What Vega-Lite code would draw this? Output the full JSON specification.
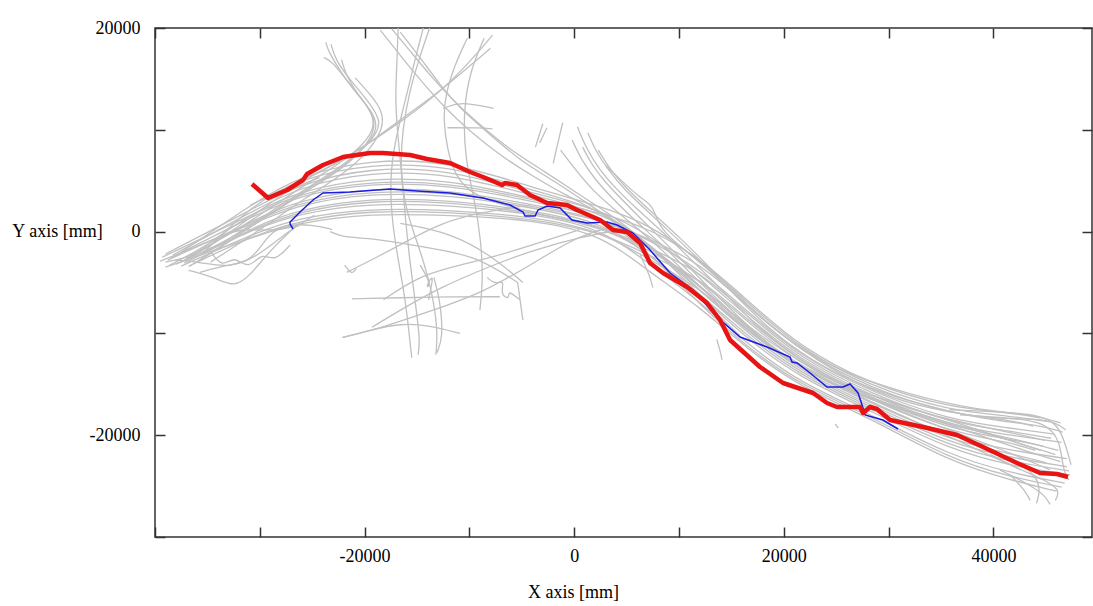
{
"$schema": "https://vega.github.io/schema/vega-lite/v6.json",
"width": 937, "height": 509,
"autosize": {"type": "none"},
"padding": {"left": 155, "top": 28, "right": 1, "bottom": 69},
"background": "white",
"config": {
 "view": {"stroke": "#333333", "strokeWidth": 1.5},
 "axis": {"labelFont": "Liberation Serif", "titleFont": "Liberation Serif", "labelFontSize": 18, "titleFontSize": 18, "labelColor": "#000000", "titleColor": "#000000", "titleFontWeight": "normal", "grid": false, "domain": false, "tickColor": "#333333", "tickWidth": 1.5, "tickSize": -10}
},
"layer": [
 {
  "data": {"values": [
{"g":"A1","x":-37600,"y":-2100},{"g":"A1","x":-30900,"y":2600},{"g":"A1","x":-26200,"y":5500},{"g":"A1","x":-19500,"y":7100},{"g":"A1","x":-11800,"y":6900},{"g":"A1","x":-4200,"y":4400},{"g":"A1","x":2500,"y":2500},{"g":"A1","x":7200,"y":700},{"g":"A1","x":12000,"y":-2800},{"g":"A1","x":16800,"y":-7200},{"g":"A1","x":21500,"y":-11500},{"g":"A1","x":28200,"y":-15200},{"g":"A1","x":35800,"y":-17600},{"g":"A1","x":41600,"y":-18100},{"g":"A1","x":45400,"y":-18700},
{"g":"A2","x":-39000,"y":-2200},{"g":"A2","x":-30900,"y":2100},{"g":"A2","x":-26200,"y":4700},{"g":"A2","x":-19500,"y":6300},{"g":"A2","x":-11800,"y":6100},{"g":"A2","x":-4200,"y":3800},{"g":"A2","x":2500,"y":2200},{"g":"A2","x":7200,"y":-300},{"g":"A2","x":12000,"y":-4200},{"g":"A2","x":16800,"y":-8600},{"g":"A2","x":21500,"y":-12600},{"g":"A2","x":28200,"y":-16100},{"g":"A2","x":35800,"y":-19100},{"g":"A2","x":41600,"y":-20000},{"g":"A2","x":46500,"y":-20700},
{"g":"A3","x":-36500,"y":-2400},{"g":"A3","x":-30900,"y":1800},{"g":"A3","x":-26200,"y":4000},{"g":"A3","x":-19500,"y":5300},{"g":"A3","x":-11800,"y":5100},{"g":"A3","x":-4200,"y":3300},{"g":"A3","x":2500,"y":1900},{"g":"A3","x":7200,"y":300},{"g":"A3","x":12000,"y":-2600},{"g":"A3","x":16800,"y":-7000},{"g":"A3","x":21500,"y":-11300},{"g":"A3","x":28200,"y":-15000},{"g":"A3","x":35800,"y":-17300},{"g":"A3","x":41600,"y":-17800},{"g":"A3","x":44500,"y":-18300},
{"g":"A4","x":-38500,"y":-2600},{"g":"A4","x":-30900,"y":1400},{"g":"A4","x":-26200,"y":3600},{"g":"A4","x":-19500,"y":4800},{"g":"A4","x":-11800,"y":4600},{"g":"A4","x":-4200,"y":3000},{"g":"A4","x":2500,"y":1600},{"g":"A4","x":7200,"y":-1300},{"g":"A4","x":12000,"y":-5300},{"g":"A4","x":16800,"y":-9700},{"g":"A4","x":21500,"y":-13500},{"g":"A4","x":28200,"y":-16800},{"g":"A4","x":35800,"y":-20200},{"g":"A4","x":41600,"y":-21500},{"g":"A4","x":47000,"y":-22300},
{"g":"A5","x":-37000,"y":-2700},{"g":"A5","x":-30900,"y":1100},{"g":"A5","x":-26200,"y":3100},{"g":"A5","x":-19500,"y":4300},{"g":"A5","x":-11800,"y":4100},{"g":"A5","x":-4200,"y":2700},{"g":"A5","x":2500,"y":1300},{"g":"A5","x":7200,"y":-800},{"g":"A5","x":12000,"y":-3700},{"g":"A5","x":16800,"y":-8100},{"g":"A5","x":21500,"y":-12200},{"g":"A5","x":28200,"y":-15700},{"g":"A5","x":35800,"y":-18500},{"g":"A5","x":41600,"y":-19300},{"g":"A5","x":45800,"y":-19900},
{"g":"A6","x":-39500,"y":-2900},{"g":"A6","x":-30900,"y":700},{"g":"A6","x":-26200,"y":2700},{"g":"A6","x":-19500,"y":3800},{"g":"A6","x":-11800,"y":3600},{"g":"A6","x":-4200,"y":2400},{"g":"A6","x":2500,"y":1000},{"g":"A6","x":7200,"y":-2300},{"g":"A6","x":12000,"y":-6100},{"g":"A6","x":16800,"y":-10500},{"g":"A6","x":21500,"y":-14100},{"g":"A6","x":28200,"y":-17400},{"g":"A6","x":35800,"y":-21100},{"g":"A6","x":41600,"y":-22600},{"g":"A6","x":47200,"y":-23500},
{"g":"A7","x":-36000,"y":-3000},{"g":"A7","x":-30900,"y":400},{"g":"A7","x":-26200,"y":2200},{"g":"A7","x":-19500,"y":3300},{"g":"A7","x":-11800,"y":3100},{"g":"A7","x":-4200,"y":2100},{"g":"A7","x":2500,"y":700},{"g":"A7","x":7200,"y":-1900},{"g":"A7","x":12000,"y":-4700},{"g":"A7","x":16800,"y":-9100},{"g":"A7","x":21500,"y":-13000},{"g":"A7","x":28200,"y":-16500},{"g":"A7","x":35800,"y":-19700},{"g":"A7","x":41600,"y":-20700},{"g":"A7","x":44000,"y":-21500},
{"g":"A8","x":-38000,"y":-3200},{"g":"A8","x":-30900,"y":100},{"g":"A8","x":-26200,"y":1800},{"g":"A8","x":-19500,"y":2800},{"g":"A8","x":-11800,"y":2600},{"g":"A8","x":-4200,"y":1800},{"g":"A8","x":2500,"y":400},{"g":"A8","x":7200,"y":-3200},{"g":"A8","x":12000,"y":-6900},{"g":"A8","x":16800,"y":-11300},{"g":"A8","x":21500,"y":-14800},{"g":"A8","x":28200,"y":-17900},{"g":"A8","x":35800,"y":-22000},{"g":"A8","x":41600,"y":-23700},{"g":"A8","x":46800,"y":-24700},
{"g":"A9","x":-37500,"y":-3400},{"g":"A9","x":-30900,"y":-300},{"g":"A9","x":-26200,"y":1400},{"g":"A9","x":-19500,"y":2300},{"g":"A9","x":-11800,"y":2100},{"g":"A9","x":-4200,"y":1500},{"g":"A9","x":2500,"y":100},{"g":"A9","x":7200,"y":-2800},{"g":"A9","x":12000,"y":-5500},{"g":"A9","x":16800,"y":-9900},{"g":"A9","x":21500,"y":-13700},{"g":"A9","x":28200,"y":-17000},{"g":"A9","x":35800,"y":-20500},{"g":"A9","x":41600,"y":-21800},{"g":"A9","x":45000,"y":-22700},
{"g":"A10","x":-39000,"y":-3500},{"g":"A10","x":-30900,"y":-600},{"g":"A10","x":-26200,"y":900},{"g":"A10","x":-19500,"y":1800},{"g":"A10","x":-11800,"y":1600},{"g":"A10","x":-4200,"y":1200},{"g":"A10","x":2500,"y":-200},{"g":"A10","x":7200,"y":-4000},{"g":"A10","x":12000,"y":-7400},{"g":"A10","x":16800,"y":-11800},{"g":"A10","x":21500,"y":-15200},{"g":"A10","x":28200,"y":-18300},{"g":"A10","x":35800,"y":-22600},{"g":"A10","x":41600,"y":-24400},{"g":"A10","x":46000,"y":-25500},
{"g":"A11","x":-35500,"y":-2200},{"g":"A11","x":-30900,"y":2500},{"g":"A11","x":-26200,"y":5200},{"g":"A11","x":-19500,"y":6700},{"g":"A11","x":-11800,"y":6500},{"g":"A11","x":-4200,"y":4100},{"g":"A11","x":2500,"y":2300},{"g":"A11","x":7200,"y":-1200},{"g":"A11","x":12000,"y":-6300},{"g":"A11","x":16800,"y":-10800},{"g":"A11","x":21500,"y":-14300},{"g":"A11","x":28200,"y":-17600},{"g":"A11","x":35800,"y":-21400},{"g":"A11","x":41600,"y":-23000},{"g":"A11","x":47300,"y":-23900},
{"g":"A12","x":-38800,"y":-2800},{"g":"A12","x":-30900,"y":900},{"g":"A12","x":-26200,"y":2900},{"g":"A12","x":-19500,"y":4000},{"g":"A12","x":-11800,"y":3900},{"g":"A12","x":-4200,"y":2500},{"g":"A12","x":2500,"y":1200},{"g":"A12","x":7200,"y":-700},{"g":"A12","x":12000,"y":-3100},{"g":"A12","x":16800,"y":-7500},{"g":"A12","x":21500,"y":-11700},{"g":"A12","x":28200,"y":-15400},{"g":"A12","x":35800,"y":-17900},{"g":"A12","x":41600,"y":-18500},{"g":"A12","x":43800,"y":-19100},
{"g":"A13","x":-37200,"y":-3100},{"g":"A13","x":-30900,"y":200},{"g":"A13","x":-26200,"y":2000},{"g":"A13","x":-19500,"y":3100},{"g":"A13","x":-11800,"y":2900},{"g":"A13","x":-4200,"y":1900},{"g":"A13","x":2500,"y":600},{"g":"A13","x":7200,"y":-1600},{"g":"A13","x":12000,"y":-3900},{"g":"A13","x":16800,"y":-8300},{"g":"A13","x":21500,"y":-12400},{"g":"A13","x":28200,"y":-15900},{"g":"A13","x":35800,"y":-18800},{"g":"A13","x":41600,"y":-19600},{"g":"A13","x":45500,"y":-20300},
{"g":"A14","x":-39300,"y":-2500},{"g":"A14","x":-30900,"y":1600},{"g":"A14","x":-26200,"y":3800},{"g":"A14","x":-19500,"y":5000},{"g":"A14","x":-11800,"y":4800},{"g":"A14","x":-4200,"y":3200},{"g":"A14","x":2500,"y":1700},{"g":"A14","x":7200,"y":-2100},{"g":"A14","x":12000,"y":-7200},{"g":"A14","x":16800,"y":-11600},{"g":"A14","x":21500,"y":-15000},{"g":"A14","x":28200,"y":-18100},{"g":"A14","x":35800,"y":-22300},{"g":"A14","x":41600,"y":-24100},{"g":"A14","x":46500,"y":-25100},
{"g":"A15","x":-36800,"y":-3400},{"g":"A15","x":-30900,"y":-500},{"g":"A15","x":-26200,"y":1100},{"g":"A15","x":-19500,"y":2100},{"g":"A15","x":-11800,"y":1900},{"g":"A15","x":-4200,"y":1300},{"g":"A15","x":2500,"y":0},{"g":"A15","x":7200,"y":-2400},{"g":"A15","x":12000,"y":-4500},{"g":"A15","x":16800,"y":-8900},{"g":"A15","x":21500,"y":-12800},{"g":"A15","x":28200,"y":-16300},{"g":"A15","x":35800,"y":-19400},{"g":"A15","x":41600,"y":-20400},{"g":"A15","x":44800,"y":-21100},
{"g":"A16","x":-38300,"y":-2300},{"g":"A16","x":-30900,"y":1900},{"g":"A16","x":-26200,"y":4400},{"g":"A16","x":-19500,"y":5900},{"g":"A16","x":-11800,"y":5700},{"g":"A16","x":-4200,"y":3600},{"g":"A16","x":2500,"y":2000},{"g":"A16","x":7200,"y":-1100},{"g":"A16","x":12000,"y":-5800},{"g":"A16","x":16800,"y":-10200},{"g":"A16","x":21500,"y":-13900},{"g":"A16","x":28200,"y":-17200},{"g":"A16","x":35800,"y":-20800},{"g":"A16","x":41600,"y":-22200},{"g":"A16","x":47000,"y":-23100},
{"g":"C1","x":-37600,"y":-3000},{"g":"C1","x":-32800,"y":-800},{"g":"C1","x":-28100,"y":2600},{"g":"C1","x":-24200,"y":5100},{"g":"C1","x":-21400,"y":7000},{"g":"C1","x":-19300,"y":9000},{"g":"C1","x":-18700,"y":10500},{"g":"C1","x":-19500,"y":12100},{"g":"C1","x":-20900,"y":13700},{"g":"C1","x":-22300,"y":15700},{"g":"C1","x":-23500,"y":17800},{"g":"C1","x":-23700,"y":18600},
{"g":"C2","x":-36700,"y":-3400},{"g":"C2","x":-31900,"y":-300},{"g":"C2","x":-27100,"y":3100},{"g":"C2","x":-23300,"y":5500},{"g":"C2","x":-20400,"y":7800},{"g":"C2","x":-18700,"y":9800},{"g":"C2","x":-18500,"y":11000},{"g":"C2","x":-19700,"y":12900},{"g":"C2","x":-21400,"y":14900},{"g":"C2","x":-22800,"y":16900},{"g":"C2","x":-23200,"y":18400},
{"g":"C3","x":-35700,"y":-2300},{"g":"C3","x":-30900,"y":350},{"g":"C3","x":-26200,"y":3600},{"g":"C3","x":-22300,"y":6000},{"g":"C3","x":-20000,"y":8200},{"g":"C3","x":-18900,"y":10200},{"g":"C3","x":-19300,"y":11800},{"g":"C3","x":-20600,"y":13400},{"g":"C3","x":-21800,"y":15400},{"g":"C3","x":-22200,"y":16900},
{"g":"C4","x":-37100,"y":-2600},{"g":"C4","x":-32400,"y":-50},{"g":"C4","x":-27600,"y":3300},{"g":"C4","x":-23800,"y":5800},{"g":"C4","x":-21200,"y":7500},{"g":"C4","x":-19300,"y":9500},{"g":"C4","x":-19000,"y":11200},{"g":"C4","x":-20300,"y":13100},{"g":"C4","x":-21900,"y":15100},{"g":"C4","x":-23100,"y":16700},{"g":"C4","x":-23900,"y":17100},
{"g":"C5","x":-34700,"y":-3000},{"g":"C5","x":-30000,"y":150},{"g":"C5","x":-25700,"y":3300},{"g":"C5","x":-21900,"y":5700},{"g":"C5","x":-19500,"y":8000},{"g":"C5","x":-18200,"y":10200},{"g":"C5","x":-18300,"y":11800},{"g":"C5","x":-19300,"y":13300},{"g":"C5","x":-20900,"y":15100},
{"g":"D1","x":-18500,"y":19800},{"g":"D1","x":-16600,"y":17300},{"g":"D1","x":-14700,"y":14900},{"g":"D1","x":-12300,"y":12100},{"g":"D1","x":-9900,"y":9800},{"g":"D1","x":-7100,"y":7500},{"g":"D1","x":-4200,"y":5600},{"g":"D1","x":-900,"y":3600},{"g":"D1","x":2500,"y":1900},{"g":"D1","x":6300,"y":-800},{"g":"D1","x":12000,"y":-5200},{"g":"D1","x":17700,"y":-10600},{"g":"D1","x":23400,"y":-14400},{"g":"D1","x":31100,"y":-17000},{"g":"D1","x":38700,"y":-19500},{"g":"D1","x":44500,"y":-21500},
{"g":"D2","x":-17400,"y":19900},{"g":"D2","x":-15700,"y":17800},{"g":"D2","x":-13800,"y":15400},{"g":"D2","x":-11400,"y":12700},{"g":"D2","x":-9000,"y":10500},{"g":"D2","x":-6100,"y":8000},{"g":"D2","x":-2800,"y":5900},{"g":"D2","x":500,"y":3600},{"g":"D2","x":4400,"y":1100},{"g":"D2","x":8200,"y":-2300},{"g":"D2","x":12900,"y":-6200},{"g":"D2","x":18700,"y":-11100},{"g":"D2","x":25400,"y":-15100},{"g":"D2","x":33000,"y":-18500},{"g":"D2","x":40600,"y":-21300},{"g":"D2","x":45400,"y":-23400},
{"g":"D3","x":-16600,"y":19600},{"g":"D3","x":-14700,"y":17100},{"g":"D3","x":-12800,"y":14400},{"g":"D3","x":-10900,"y":12100},{"g":"D3","x":-8000,"y":9500},{"g":"D3","x":-5200,"y":7000},{"g":"D3","x":-1800,"y":4900},{"g":"D3","x":1500,"y":2600},{"g":"D3","x":5300,"y":0},{"g":"D3","x":10100,"y":-4000},{"g":"D3","x":14900,"y":-8500},{"g":"D3","x":20600,"y":-12800},{"g":"D3","x":27300,"y":-16300},{"g":"D3","x":34900,"y":-19700},{"g":"D3","x":42600,"y":-23400},
{"g":"E1","x":-14400,"y":20000},{"g":"E1","x":-15200,"y":16900},{"g":"E1","x":-16100,"y":12900},{"g":"E1","x":-17100,"y":9000},{"g":"E1","x":-17600,"y":5100},{"g":"E1","x":-17400,"y":1100},{"g":"E1","x":-16800,"y":-2800},{"g":"E1","x":-16100,"y":-6700},{"g":"E1","x":-15700,"y":-10600},{"g":"E1","x":-15500,"y":-12400},
{"g":"E2","x":-16800,"y":20000},{"g":"E2","x":-16900,"y":16900},{"g":"E2","x":-17100,"y":12900},{"g":"E2","x":-16800,"y":9000},{"g":"E2","x":-16400,"y":5100},{"g":"E2","x":-16100,"y":1100},{"g":"E2","x":-15700,"y":-2800},{"g":"E2","x":-15200,"y":-6700},{"g":"E2","x":-14700,"y":-10600},{"g":"E2","x":-14900,"y":-12100},
{"g":"E3","x":-13800,"y":20000},{"g":"E3","x":-14700,"y":17300},{"g":"E3","x":-15700,"y":13900},{"g":"E3","x":-16400,"y":10000},{"g":"E3","x":-16600,"y":6100},{"g":"E3","x":-16100,"y":2100},{"g":"E3","x":-14700,"y":-1800},{"g":"E3","x":-13600,"y":-5700},{"g":"E3","x":-13000,"y":-9700},{"g":"E3","x":-13200,"y":-12100},
{"g":"E4","x":-8600,"y":19000},{"g":"E4","x":-9900,"y":15900},{"g":"E4","x":-10600,"y":11900},{"g":"E4","x":-10400,"y":7000},{"g":"E4","x":-9500,"y":3100},{"g":"E4","x":-8900,"y":-800},{"g":"E4","x":-8700,"y":-4700},{"g":"E4","x":-9000,"y":-7700},
{"g":"E5","x":-10200,"y":19000},{"g":"E5","x":-11400,"y":16400},{"g":"E5","x":-12300,"y":13400},{"g":"E5","x":-12500,"y":11000},{"g":"E5","x":-12100,"y":8000},{"g":"E5","x":-11400,"y":5600},{"g":"E5","x":-9900,"y":3600},{"g":"E5","x":-5200,"y":2100},{"g":"E5","x":500,"y":900},{"g":"E5","x":5300,"y":-600},{"g":"E5","x":10100,"y":-4700},{"g":"E5","x":15800,"y":-10200},
{"g":"K1","x":-12500,"y":12100},{"g":"K1","x":-10900,"y":12800},{"g":"K1","x":-7700,"y":12100},
{"g":"K2","x":-12100,"y":10200},{"g":"K2","x":-9000,"y":10200},{"g":"K2","x":-7800,"y":10100},
{"g":"B1","x":-30900,"y":2600},{"g":"B1","x":-26200,"y":4900},{"g":"B1","x":-22100,"y":7000},{"g":"B1","x":-17600,"y":10000},{"g":"B1","x":-14000,"y":12700},{"g":"B1","x":-11400,"y":15100},{"g":"B1","x":-9000,"y":17800},{"g":"B1","x":-7800,"y":19300},
{"g":"B2","x":-30000,"y":3100},{"g":"B2","x":-25200,"y":5300},{"g":"B2","x":-20400,"y":8000},{"g":"B2","x":-16600,"y":11000},{"g":"B2","x":-13300,"y":13400},{"g":"B2","x":-10400,"y":15900},{"g":"B2","x":-8000,"y":18000},
{"g":"F1","x":300,"y":10300},{"g":"F1","x":1000,"y":8500},{"g":"F1","x":2300,"y":6200},{"g":"F1","x":3900,"y":4300},{"g":"F1","x":5800,"y":2400},{"g":"F1","x":8200,"y":200},{"g":"F1","x":11000,"y":-2600},{"g":"F1","x":13900,"y":-5500},{"g":"F1","x":16800,"y":-8700},{"g":"F1","x":20100,"y":-11600},{"g":"F1","x":24400,"y":-14400},{"g":"F1","x":29200,"y":-16500},{"g":"F1","x":34900,"y":-18300},{"g":"F1","x":40600,"y":-19500},{"g":"F1","x":44900,"y":-20500},
{"g":"F2","x":1300,"y":9700},{"g":"F2","x":2000,"y":8000},{"g":"F2","x":3200,"y":6100},{"g":"F2","x":4800,"y":4100},{"g":"F2","x":7100,"y":1900},{"g":"F2","x":9600,"y":-500},{"g":"F2","x":12500,"y":-3300},{"g":"F2","x":15300,"y":-6200},{"g":"F2","x":18700,"y":-9700},{"g":"F2","x":22500,"y":-12600},{"g":"F2","x":27300,"y":-15100},{"g":"F2","x":33000,"y":-17000},{"g":"F2","x":39200,"y":-18500},{"g":"F2","x":44500,"y":-19000},{"g":"F2","x":46600,"y":-19700},
{"g":"F3","x":-200,"y":9000},{"g":"F3","x":700,"y":7000},{"g":"F3","x":2000,"y":5100},{"g":"F3","x":3600,"y":3300},{"g":"F3","x":5800,"y":1100},{"g":"F3","x":8400,"y":-1300},{"g":"F3","x":11000,"y":-4000},{"g":"F3","x":13900,"y":-6900},{"g":"F3","x":17300,"y":-10200},{"g":"F3","x":21100,"y":-13100},{"g":"F3","x":25900,"y":-15600},{"g":"F3","x":31100,"y":-17500},{"g":"F3","x":36800,"y":-19300},{"g":"F3","x":42600,"y":-20500},{"g":"F3","x":46200,"y":-21500},
{"g":"F4","x":2300,"y":8000},{"g":"F4","x":3400,"y":6100},{"g":"F4","x":5100,"y":4100},{"g":"F4","x":7400,"y":1900},{"g":"F4","x":10100,"y":-600},{"g":"F4","x":12900,"y":-3500},{"g":"F4","x":15800,"y":-6500},{"g":"F4","x":19200,"y":-9700},{"g":"F4","x":23000,"y":-12600},{"g":"F4","x":28200,"y":-15600},{"g":"F4","x":33900,"y":-17500},{"g":"F4","x":40600,"y":-18500},{"g":"F4","x":45400,"y":-18300},{"g":"F4","x":46900,"y":-19500},
{"g":"F5","x":-1300,"y":8000},{"g":"F5","x":100,"y":6100},{"g":"F5","x":1700,"y":4100},{"g":"F5","x":3900,"y":2100},{"g":"F5","x":6800,"y":-300},{"g":"F5","x":9600,"y":-3000},{"g":"F5","x":12500,"y":-5900},{"g":"F5","x":15800,"y":-9200},{"g":"F5","x":19600,"y":-12100},{"g":"F5","x":23900,"y":-14600},{"g":"F5","x":29200,"y":-16700},{"g":"F5","x":35400,"y":-18700},{"g":"F5","x":41600,"y":-20500},{"g":"F5","x":45900,"y":-21900},
{"g":"F6","x":3000,"y":6500},{"g":"F6","x":4400,"y":5100},{"g":"F6","x":6300,"y":3300},{"g":"F6","x":7500,"y":2600},{"g":"F6","x":8000,"y":700},{"g":"F6","x":9300,"y":-800},{"g":"F6","x":12000,"y":-3000},{"g":"F6","x":14900,"y":-5700},{"g":"F6","x":18200,"y":-8900},{"g":"F6","x":22000,"y":-11800},{"g":"F6","x":26300,"y":-14100},{"g":"F6","x":32000,"y":-16000},{"g":"F6","x":38200,"y":-17500},{"g":"F6","x":44000,"y":-18000},{"g":"F6","x":46400,"y":-18800},
{"g":"F7","x":800,"y":8300},{"g":"F7","x":1700,"y":6500},{"g":"F7","x":3000,"y":4800},{"g":"F7","x":4600,"y":3100},{"g":"F7","x":6500,"y":1100},{"g":"F7","x":9000,"y":-1400},{"g":"F7","x":11600,"y":-4200},{"g":"F7","x":14500,"y":-7200},{"g":"F7","x":17700,"y":-10400},{"g":"F7","x":21500,"y":-13400},{"g":"F7","x":26300,"y":-15800},{"g":"F7","x":32000,"y":-17700},{"g":"F7","x":37800,"y":-19700},{"g":"F7","x":43500,"y":-21700},{"g":"F7","x":46400,"y":-22600},
{"g":"Q1","x":-3000,"y":10600},{"g":"Q1","x":-3700,"y":8300},
{"g":"Q2","x":-2600,"y":10200},{"g":"Q2","x":-3300,"y":8700},
{"g":"Q3","x":-1100,"y":10700},{"g":"Q3","x":-1800,"y":7700},{"g":"Q3","x":-2000,"y":6700},
{"g":"L2","x":-23300,"y":0},{"g":"L2","x":-21900,"y":-600},{"g":"L2","x":-19800,"y":-600},{"g":"L2","x":-16600,"y":-1100},{"g":"L2","x":-12800,"y":-1800},{"g":"L2","x":-9200,"y":-2500},{"g":"L2","x":-5400,"y":-5000},
{"g":"L3","x":-21700,"y":-4000},{"g":"L3","x":-18800,"y":-2500},{"g":"L3","x":-15700,"y":-800},{"g":"L3","x":-12800,"y":800},{"g":"L3","x":-9000,"y":1900},{"g":"L3","x":-4200,"y":2600},
{"g":"L4","x":-21200,"y":-6600},{"g":"L4","x":-16600,"y":-6500},{"g":"L4","x":-11800,"y":-6400},{"g":"L4","x":-7100,"y":-6400},
{"g":"L5","x":-22100,"y":-10400},{"g":"L5","x":-18200,"y":-9400},{"g":"L5","x":-13400,"y":-7700},{"g":"L5","x":-8700,"y":-6000},{"g":"L5","x":-3900,"y":-3100},{"g":"L5","x":-700,"y":-1100},{"g":"L5","x":1500,"y":-100},{"g":"L5","x":4400,"y":700},
{"g":"L6","x":-19300,"y":-9400},{"g":"L6","x":-16600,"y":-7700},{"g":"L6","x":-12800,"y":-5500},{"g":"L6","x":-8300,"y":-3500},{"g":"L6","x":-3900,"y":-1800},{"g":"L6","x":800,"y":-500},{"g":"L6","x":4400,"y":200},
{"g":"L7","x":-18200,"y":-6700},{"g":"L7","x":-15000,"y":-4500},{"g":"L7","x":-11800,"y":-3500},{"g":"L7","x":-7700,"y":-2500},{"g":"L7","x":-3300,"y":-1100},{"g":"L7","x":500,"y":200},
{"g":"V3","x":-13400,"y":-4500},{"g":"V3","x":-12800,"y":-6700},{"g":"V3","x":-12500,"y":-10400},{"g":"V3","x":-13100,"y":-11900},
{"g":"L8","x":-22100,"y":-10400},{"g":"L8","x":-19500,"y":-9700},{"g":"L8","x":-16600,"y":-9000},{"g":"L8","x":-13800,"y":-9200},{"g":"L8","x":-10900,"y":-10000},
{"g":"L9","x":-16600,"y":800},{"g":"L9","x":-11800,"y":-100},{"g":"L9","x":-7700,"y":-2500},{"g":"L9","x":-4900,"y":-5000},
{"g":"L10","x":-5400,"y":-5000},{"g":"L10","x":-4900,"y":-8700},
{"g":"T1","x":-8300,"y":-4500},{"g":"T1","x":-7600,"y":-5200},{"g":"T1","x":-6600,"y":-4700},{"g":"T1","x":-7100,"y":-6200},{"g":"T1","x":-6100,"y":-6700},{"g":"T1","x":-6400,"y":-5700},{"g":"T1","x":-5200,"y":-6700},
{"g":"T2","x":-14700,"y":-3300},{"g":"T2","x":-13600,"y":-5200},{"g":"T2","x":-14300,"y":-5700},{"g":"T2","x":-13300,"y":-3800},{"g":"T2","x":-13900,"y":-6700},
{"g":"S4","x":-21900,"y":-3300},{"g":"S4","x":-21200,"y":-4300},{"g":"S4","x":-20800,"y":-3600},
{"g":"G1","x":-39000,"y":-3000},{"g":"G1","x":-37100,"y":-2600},{"g":"G1","x":-35200,"y":-1800},{"g":"G1","x":-32100,"y":500},{"g":"G1","x":-29500,"y":2400},{"g":"G1","x":-27300,"y":4100},{"g":"G1","x":-24300,"y":5300},
{"g":"G2","x":-38100,"y":-2800},{"g":"G2","x":-35700,"y":-3000},{"g":"G2","x":-32800,"y":-3600},{"g":"G2","x":-30000,"y":-2300},{"g":"G2","x":-27100,"y":200},{"g":"G2","x":-24800,"y":1600},
{"g":"G3","x":-36800,"y":-3800},{"g":"G3","x":-34300,"y":-4500},{"g":"G3","x":-32400,"y":-5500},{"g":"G3","x":-30900,"y":-4300},{"g":"G3","x":-29000,"y":-1800},{"g":"G3","x":-26200,"y":900},
{"g":"G4","x":-35700,"y":-4000},{"g":"G4","x":-33300,"y":-3300},{"g":"G4","x":-30900,"y":-3000},{"g":"G4","x":-29500,"y":-800},{"g":"G4","x":-28100,"y":700},{"g":"G4","x":-24900,"y":700},{"g":"G4","x":-23100,"y":200},
{"g":"G5","x":-38600,"y":-3300},{"g":"G5","x":-36700,"y":-2300},{"g":"G5","x":-34300,"y":-800},{"g":"G5","x":-31900,"y":400},{"g":"G5","x":-29000,"y":0},{"g":"G5","x":-26200,"y":600},
{"g":"G6","x":-34800,"y":-1800},{"g":"G6","x":-33600,"y":-3600},{"g":"G6","x":-32400,"y":-2300},{"g":"G6","x":-31100,"y":-3800},{"g":"G6","x":-29800,"y":-2000},{"g":"G6","x":-28600,"y":-3000},{"g":"G6","x":-27100,"y":-1300},
{"g":"H1","x":40600,"y":-23400},{"g":"H1","x":43500,"y":-24900},{"g":"H1","x":44900,"y":-25900},{"g":"H1","x":45400,"y":-26800},
{"g":"H2","x":41600,"y":-23900},{"g":"H2","x":43000,"y":-25400},{"g":"H2","x":43500,"y":-26400},
{"g":"H3","x":39700,"y":-21900},{"g":"H3","x":42600,"y":-23400},{"g":"H3","x":44900,"y":-24400},{"g":"H3","x":46400,"y":-25400},{"g":"H3","x":45900,"y":-26400},
{"g":"H4","x":35800,"y":-17500},{"g":"H4","x":40600,"y":-17700},{"g":"H4","x":44500,"y":-18000},{"g":"H4","x":46200,"y":-19000},{"g":"H4","x":46900,"y":-21000},{"g":"H4","x":47400,"y":-22900},
{"g":"H5","x":36800,"y":-18000},{"g":"H5","x":41600,"y":-18300},{"g":"H5","x":44900,"y":-18700},{"g":"H5","x":46400,"y":-20500},{"g":"H5","x":46600,"y":-23400},{"g":"H5","x":47200,"y":-24400},
{"g":"H6","x":42600,"y":-22900},{"g":"H6","x":44000,"y":-23900},{"g":"H6","x":44500,"y":-25400},{"g":"H6","x":44100,"y":-26700},
{"g":"S1","x":13600,"y":-10600},{"g":"S1","x":13900,"y":-11600},{"g":"S1","x":14100,"y":-12600},
{"g":"S2","x":24900,"y":-18900},{"g":"S2","x":25200,"y":-19300},
{"g":"S5","x":6300,"y":-2300},{"g":"S5","x":7200,"y":-4300},{"g":"S5","x":7500,"y":-5500}
  ]},
  "mark": {"type": "line", "color": "#c0c0c0", "strokeWidth": 1.3, "interpolate": "basis", "clip": true},
  "encoding": {
   "x": {"field": "x", "type": "quantitative", "scale": {"domain": [-40000, 49400], "nice": false, "zero": false},
    "axis": {"orient": "bottom", "values": [-40000, -30000, -20000, -10000, 0, 10000, 20000, 30000, 40000], "labelExpr": "(datum.value % 20000 === 0 && datum.value > -40000) ? '' + datum.value : ''", "labelPadding": 29, "labelBaseline": "middle", "labelFlush": false, "title": "X axis [mm]", "titleX": 418, "titleY": 55, "titleBaseline": "middle", "titleAlign": "center"}},
   "y": {"field": "y", "type": "quantitative", "scale": {"domain": [-30000, 20000], "nice": false, "zero": false},
    "axis": {"orient": "left", "values": [-30000, -20000, -10000, 0, 10000, 20000], "labelExpr": "datum.value % 20000 === 0 ? '' + datum.value : ''", "labelPadding": 25, "labelAlign": "right", "labelBaseline": "middle", "labelFlush": false, "title": "Y axis [mm]", "titleAngle": 0, "titleX": -98, "titleY": 203, "titleAlign": "center", "titleBaseline": "middle"}},
   "detail": {"field": "g"},
   "order": {"value": null}
  }
 },
 {
  "data": {"values": [
{"x":-26830,"y":255},{"x":-27115,"y":747},{"x":-27115,"y":943},{"x":-26161,"y":1925},{"x":-24921,"y":3104},{"x":-23967,"y":3792},{"x":-21391,"y":3890},{"x":-17574,"y":4185},{"x":-14998,"y":3988},{"x":-11850,"y":3792},{"x":-8701,"y":3301},{"x":-6125,"y":2613},{"x":-4885,"y":1925},{"x":-4694,"y":1532},{"x":-3740,"y":1532},{"x":-3454,"y":2122},{"x":-2595,"y":2515},{"x":-1355,"y":2318},{"x":-210,"y":1139},{"x":1221,"y":845},{"x":3129,"y":943},{"x":4084,"y":648},{"x":5610,"y":-138},{"x":7232,"y":-1808},{"x":9140,"y":-4067},{"x":11335,"y":-5737},{"x":13625,"y":-8389},{"x":15819,"y":-10354},{"x":18395,"y":-11336},{"x":20590,"y":-12318},{"x":20781,"y":-12809},{"x":21258,"y":-12908},{"x":22498,"y":-13890},{"x":24120,"y":-15265},{"x":25647,"y":-15265},{"x":26315,"y":-14970},{"x":27078,"y":-15854},{"x":27460,"y":-17033},{"x":27746,"y":-18016},{"x":29463,"y":-18507},{"x":30894,"y":-19391}
  ]},
  "mark": {"type": "line", "color": "#1c1ce0", "strokeWidth": 1.5},
  "encoding": {
   "x": {"field": "x", "type": "quantitative", "scale": {"domain": [-40000, 49400], "nice": false, "zero": false},
    "axis": {"orient": "top", "values": [-40000, -30000, -20000, -10000, 0, 10000, 20000, 30000, 40000], "labels": false, "title": null}},
   "y": {"field": "y", "type": "quantitative", "scale": {"domain": [-30000, 20000], "nice": false, "zero": false},
    "axis": {"orient": "right", "values": [-30000, -20000, -10000, 0, 10000, 20000], "labels": false, "title": null}},
   "order": {"value": null}
  }
 },
 {
  "data": {"values": [
{"x":-30740,"y":4676},{"x":-29214,"y":3300},{"x":-27401,"y":4086},{"x":-25874,"y":5069},{"x":-25493,"y":5658},{"x":-23966,"y":6542},{"x":-22058,"y":7328},{"x":-19482,"y":7721},{"x":-18242,"y":7721},{"x":-15666,"y":7525},{"x":-14044,"y":7132},{"x":-11849,"y":6739},{"x":-9941,"y":5855},{"x":-8701,"y":5363},{"x":-6888,"y":4577},{"x":-6602,"y":4774},{"x":-5457,"y":4577},{"x":-4217,"y":3595},{"x":-2595,"y":2809},{"x":-687,"y":2613},{"x":267,"y":2122},{"x":2462,"y":1139},{"x":3702,"y":157},{"x":5038,"y":-39},{"x":6278,"y":-1120},{"x":7232,"y":-3084},{"x":8473,"y":-4067},{"x":10763,"y":-5442},{"x":12671,"y":-7013},{"x":13911,"y":-8683},{"x":14865,"y":-10648},{"x":17728,"y":-13300},{"x":19922,"y":-14872},{"x":22785,"y":-15854},{"x":24120,"y":-16837},{"x":25074,"y":-17230},{"x":27269,"y":-17230},{"x":27555,"y":-17819},{"x":28223,"y":-17230},{"x":28891,"y":-17426},{"x":30131,"y":-18507},{"x":33280,"y":-19194},{"x":36524,"y":-19980},{"x":39005,"y":-21159},{"x":42249,"y":-22731},{"x":44443,"y":-23713},{"x":46065,"y":-23811},{"x":47114,"y":-24106}
  ]},
  "mark": {"type": "line", "color": "#e81414", "strokeWidth": 4.5, "strokeJoin": "round"},
  "encoding": {
   "x": {"field": "x", "type": "quantitative", "scale": {"domain": [-40000, 49400], "nice": false, "zero": false}, "axis": null},
   "y": {"field": "y", "type": "quantitative", "scale": {"domain": [-30000, 20000], "nice": false, "zero": false}, "axis": null},
   "order": {"value": null}
  }
 }
],
"resolve": {"axis": {"x": "independent", "y": "independent"}}
}
